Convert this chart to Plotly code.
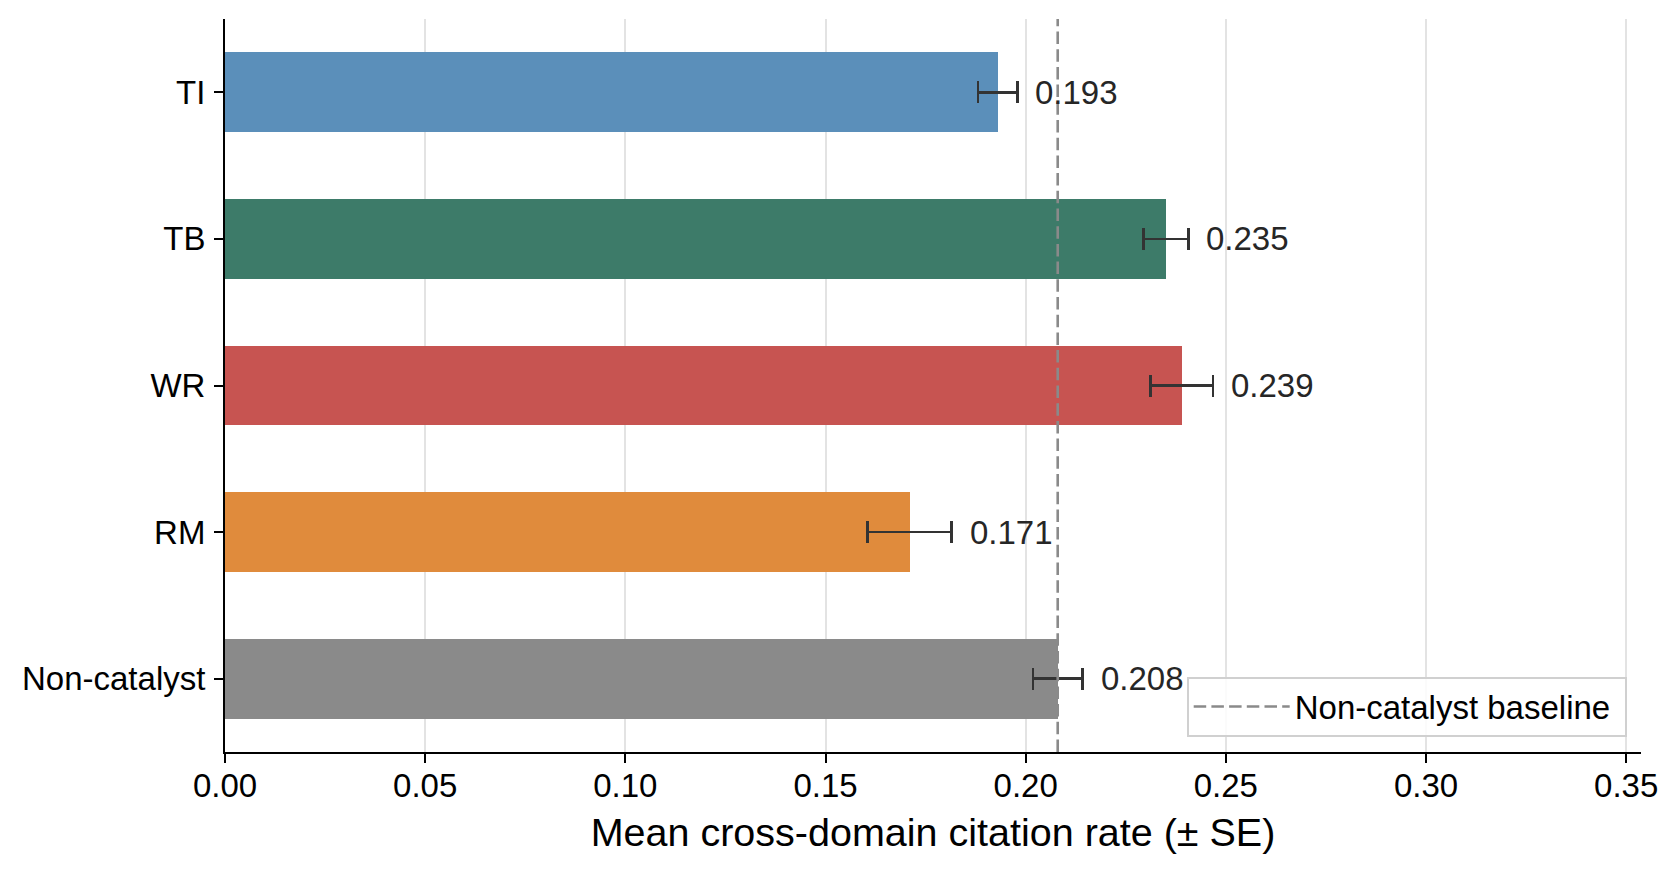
import plotly.graph_objects as go

categories = ["TI", "TB", "WR", "RM", "Non-catalyst"]
means = [0.193, 0.235, 0.239, 0.171, 0.208]
se = [0.0049, 0.0056, 0.0078, 0.0105, 0.0062]
colors = ["#5b8fba", "#3d7b69", "#c75451", "#e08b3c", "#8a8a8a"]
baseline = 0.208
x_ticks = [0.00, 0.05, 0.10, 0.15, 0.20, 0.25, 0.30, 0.35]
x_ticklabels = ["0.00", "0.05", "0.10", "0.15", "0.20", "0.25", "0.30", "0.35"]

FONT = "Liberation Sans, Arial, Helvetica, sans-serif"

fig = go.Figure()
fig.add_trace(go.Bar(
    y=categories, x=means, orientation="h",
    marker=dict(color=colors, line=dict(width=0)),
    width=0.545,
    error_x=dict(type="data", array=se, color="#333333", thickness=2.7, width=11),
    showlegend=False, hoverinfo="skip",
))

for c, m, s in zip(categories, means, se):
    fig.add_annotation(
        x=m + s, y=c, text=f"{m:.3f}", showarrow=False,
        xanchor="left", yanchor="middle", xshift=16,
        font=dict(family=FONT, size=33, color="#262626"),
    )

fig.add_shape(
    type="line", x0=baseline, x1=baseline, y0=0, y1=1,
    xref="x", yref="paper", layer="above",
    line=dict(color="#8a8a8a", width=2.6, dash="12.5px,5.2px"),
    showlegend=True, name="Non-catalyst baseline\u00a0",
)

fig.update_layout(
    width=1679, height=875,
    margin=dict(l=225, r=37.5, t=19, b=123),
    plot_bgcolor="white", paper_bgcolor="white",
    font=dict(family=FONT, size=33, color="black"),
    bargap=0,
    legend=dict(
        x=0.9899, y=0.021, xanchor="right", yanchor="bottom",
        bgcolor="rgba(255,255,255,0.85)", bordercolor="#d0d0d0", borderwidth=2,
        itemwidth=96,
        font=dict(family=FONT, size=33, color="black"),
    ),
    xaxis=dict(
        range=[0, 0.3537], tickvals=x_ticks, ticktext=x_ticklabels,
        showgrid=True, gridcolor="rgba(176,176,176,0.35)", gridwidth=1.5,
        layer="above traces",
        showline=True, linecolor="black", linewidth=2,
        ticks="outside", ticklen=9, tickwidth=2, tickcolor="black",
        ticklabelstandoff=-6,
        zeroline=False,
        title=dict(text="Mean cross-domain citation rate (± SE)",
                   font=dict(family=FONT, size=39.5, color="black"), standoff=16),
        tickfont=dict(family=FONT, size=33, color="black"),
    ),
    yaxis=dict(
        categoryorder="array", categoryarray=categories,
        range=[4.5, -0.5],
        showgrid=False, showline=True, linecolor="black", linewidth=2,
        ticks="outside", ticklen=9, tickwidth=2, tickcolor="black",
        ticklabelstandoff=2,
        zeroline=False,
        tickfont=dict(family=FONT, size=33, color="black"),
    ),
)

fig.write_html("out.html")
